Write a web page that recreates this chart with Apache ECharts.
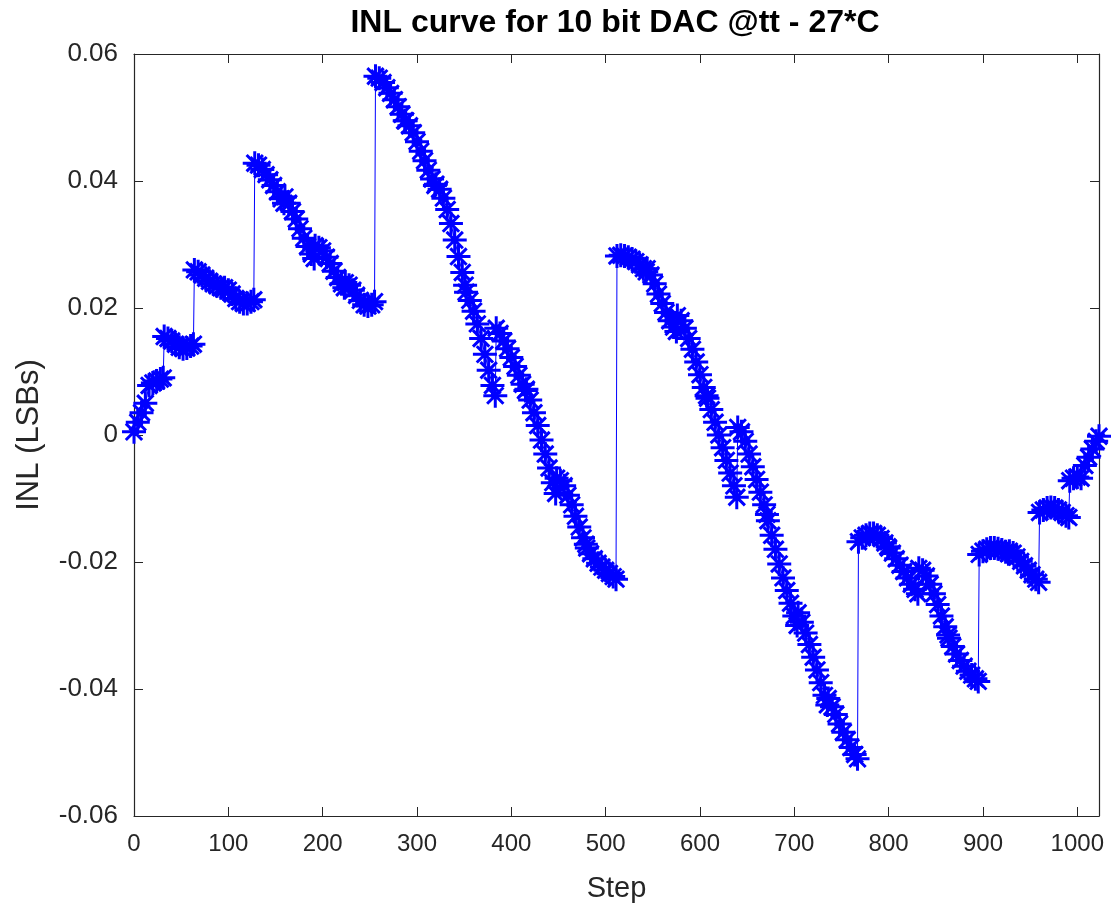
<!DOCTYPE html>
<html>
<head>
<meta charset="utf-8">
<script src="https://cdn.jsdelivr.net/npm/echarts/dist/echarts.min.js"></script>
<style>
html,body{margin:0;padding:0;background:#fff;}
#chart{width:1118px;height:914px;}
</style>
</head>
<body>
<div id="chart"></div>
<script>
// Sampling grid: each 32-step block sampled at these offsets
const blockOffsets = [0, 4, 8, 12, 16, 20, 24, 28, 31];
const blockStarts = [0,32,64,96,128,160,192,224,256,288,320,352,384,416,448,480,
                     512,544,576,608,640,672,704,736,768,800,832,864,896,928,960,992];

// INL (LSBs), 9 samples per 32-step block
const inl_0_127 = [
  0.0005, 0.002, 0.0035, 0.005, 0.0078, 0.0082, 0.0085, 0.0088, 0.009,
  0.0155, 0.0152, 0.0148, 0.0143, 0.0138, 0.0136, 0.0137, 0.014, 0.0143,
  0.026, 0.0257, 0.0252, 0.0247, 0.0242, 0.0238, 0.0235, 0.0232, 0.023,
  0.0232, 0.0228, 0.0222, 0.0215, 0.021, 0.0207, 0.0207, 0.021, 0.0213
];
const inl_128_255 = [
  0.0428, 0.0425, 0.0418, 0.041, 0.0402, 0.0393, 0.0383, 0.0372, 0.0365,
  0.0375, 0.0365, 0.0352, 0.034, 0.0325, 0.031, 0.0297, 0.0285, 0.0278,
  0.0298, 0.0295, 0.029, 0.028, 0.027, 0.0258, 0.0248, 0.0238, 0.0232,
  0.024, 0.0236, 0.0228, 0.022, 0.0212, 0.0205, 0.0203, 0.0205, 0.021
];
const inl_256_383 = [
  0.0565, 0.0562, 0.0555, 0.0547, 0.0538, 0.0528, 0.0517, 0.0505, 0.0495,
  0.0495, 0.0487, 0.0476, 0.0462, 0.0447, 0.0432, 0.0417, 0.0403, 0.0393,
  0.0395, 0.0387, 0.0373, 0.0355, 0.0333, 0.0307, 0.0281, 0.0256, 0.0236,
  0.0225, 0.0212, 0.0195, 0.0175, 0.0152, 0.0127, 0.0102, 0.0078, 0.0062
];
const inl_384_511 = [
  0.0168, 0.016, 0.0148, 0.0136, 0.0122, 0.0108, 0.0094, 0.008, 0.007,
  0.0072, 0.0055, 0.0035, 0.0015, -0.0008, -0.003, -0.0052, -0.0075, -0.0092,
  -0.0068, -0.0072, -0.008, -0.0095, -0.011, -0.0128, -0.0145, -0.0162, -0.0172,
  -0.0178, -0.0187, -0.0195, -0.0202, -0.0208, -0.0213, -0.0218, -0.0223, -0.0227
];
const inl_512_639 = [
  0.0282, 0.0283, 0.0282, 0.028, 0.0277, 0.0273, 0.0268, 0.0262, 0.0257,
  0.0262, 0.0252, 0.0238, 0.0222, 0.0207, 0.0193, 0.018, 0.017, 0.0163,
  0.0188, 0.018, 0.0168, 0.0152, 0.0135, 0.0115, 0.0095, 0.0075, 0.0062,
  0.0058, 0.004, 0.002, 0.0, -0.002, -0.004, -0.006, -0.008, -0.0098
];
const inl_640_767 = [
  0.0012, 0.0005, -0.001, -0.003, -0.005, -0.007, -0.009, -0.011, -0.0125,
  -0.0135, -0.0158, -0.018, -0.0203, -0.0225, -0.0245, -0.0265, -0.0285, -0.03,
  -0.028, -0.0295, -0.0312, -0.033, -0.035, -0.037, -0.039, -0.041, -0.0425,
  -0.0415, -0.0428, -0.044, -0.0455, -0.0468, -0.048, -0.0492, -0.0503, -0.051
];
const inl_768_895 = [
  -0.0168, -0.0162, -0.0158, -0.0155, -0.0155, -0.0158, -0.0163, -0.017, -0.0176,
  -0.0178, -0.0186, -0.0195, -0.0205, -0.0215, -0.0225, -0.0235, -0.0243, -0.025,
  -0.021, -0.0213, -0.0222, -0.0235, -0.025, -0.0267, -0.0285, -0.0302, -0.0315,
  -0.032, -0.0333, -0.0345, -0.0355, -0.0364, -0.0372, -0.0378, -0.0384, -0.0388
];
const inl_896_1023 = [
  -0.0188, -0.0183, -0.018, -0.0178, -0.0178, -0.0179, -0.0181, -0.0184, -0.0187,
  -0.0183, -0.0186, -0.0192, -0.0199, -0.0206, -0.0213, -0.022, -0.0227, -0.0232,
  -0.0122, -0.0118, -0.0115, -0.0114, -0.0115, -0.0118, -0.0122, -0.0127, -0.013,
  -0.0072, -0.0068, -0.0066, -0.0068, -0.0048, -0.0035, -0.0022, -0.001, -0.0002
];

const xTicks = [0,100,200,300,400,500,600,700,800,900,1000];
const yTicks = [-0.06,-0.04,-0.02,0,0.02,0.04,0.06];

const inlAll = [].concat(inl_0_127, inl_128_255, inl_256_383, inl_384_511,
                         inl_512_639, inl_640_767, inl_768_895, inl_896_1023);
const points = [];
let k = 0;
for (const s of blockStarts) {
  for (const o of blockOffsets) {
    points.push([s + o, inlAll[k++]]);
  }
}

const axisColor = '#262626';
const font = '"Liberation Sans", Arial, Helvetica, sans-serif';
const chart = echarts.init(document.getElementById('chart'), null, {renderer: 'canvas'});

const starPath = 'path://M5,0L5,10M0,5L10,5M1.6,1.6L8.4,8.4M1.6,8.4L8.4,1.6';

chart.setOption({
  animation: false,
  backgroundColor: '#ffffff',
  title: {
    text: 'INL curve for 10 bit DAC @tt - 27*C',
    left: 610,
    top: 2,
    textAlign: 'center',
    textStyle: {fontFamily: font, fontWeight: 'bold', fontSize: 32, color: '#000'}
  },
  grid: {left: 134, right: 19, top: 54, bottom: 98, containLabel: false},
  xAxis: [
    {
      type: 'value', position: 'bottom', min: 0, max: 1023, interval: 100,
      name: 'Step', nameLocation: 'middle', nameGap: 58,
      nameTextStyle: {fontFamily: font, fontSize: 29, color: axisColor},
      axisLine: {show: true, onZero: false, lineStyle: {color: axisColor, width: 1.2}},
      axisTick: {show: true, inside: true, length: 9, lineStyle: {color: axisColor}},
      axisLabel: {show: true, margin: 16, fontFamily: font, fontSize: 24, color: axisColor,
                  showMaxLabel: false,
                  formatter: v => xTicks.indexOf(v) >= 0 ? String(v) : ''},
      splitLine: {show: false}
    },
    {
      type: 'value', position: 'top', min: 0, max: 1023, interval: 100,
      axisLine: {show: true, onZero: false, lineStyle: {color: axisColor, width: 1.2}},
      axisTick: {show: true, inside: true, length: 9, lineStyle: {color: axisColor}},
      axisLabel: {show: false},
      splitLine: {show: false}
    }
  ],
  yAxis: [
    {
      type: 'value', position: 'left', min: -0.06, max: 0.06, interval: 0.02,
      name: 'INL (LSBs)', nameLocation: 'middle', nameGap: 89, nameRotate: 90,
      nameTextStyle: {fontFamily: font, fontSize: 31, color: axisColor},
      axisLine: {show: true, onZero: false, lineStyle: {color: axisColor, width: 1.2}},
      axisTick: {show: true, inside: true, length: 9, lineStyle: {color: axisColor}},
      axisLabel: {show: true, margin: 16, fontFamily: font, fontSize: 26, color: axisColor,
                  formatter: v => {
                    const r = Math.round(v * 100) / 100;
                    return yTicks.indexOf(r) >= 0 ? String(r) : '';
                  }},
      splitLine: {show: false}
    },
    {
      type: 'value', position: 'right', min: -0.06, max: 0.06, interval: 0.02,
      axisLine: {show: true, onZero: false, lineStyle: {color: axisColor, width: 1.2}},
      axisTick: {show: true, inside: true, length: 9, lineStyle: {color: axisColor}},
      axisLabel: {show: false},
      splitLine: {show: false}
    }
  ],
  series: [{
    type: 'line',
    xAxisIndex: 0, yAxisIndex: 0,
    data: points,
    symbol: starPath,
    symbolSize: 24,
    showSymbol: true,
    showAllSymbol: true,
    lineStyle: {color: '#0000ff', width: 1},
    itemStyle: {color: 'rgba(0,0,0,0)', borderColor: '#0000ff', borderWidth: 3},
    emphasis: {disabled: true},
    silent: true
  }]
});
</script>
</body>
</html>
